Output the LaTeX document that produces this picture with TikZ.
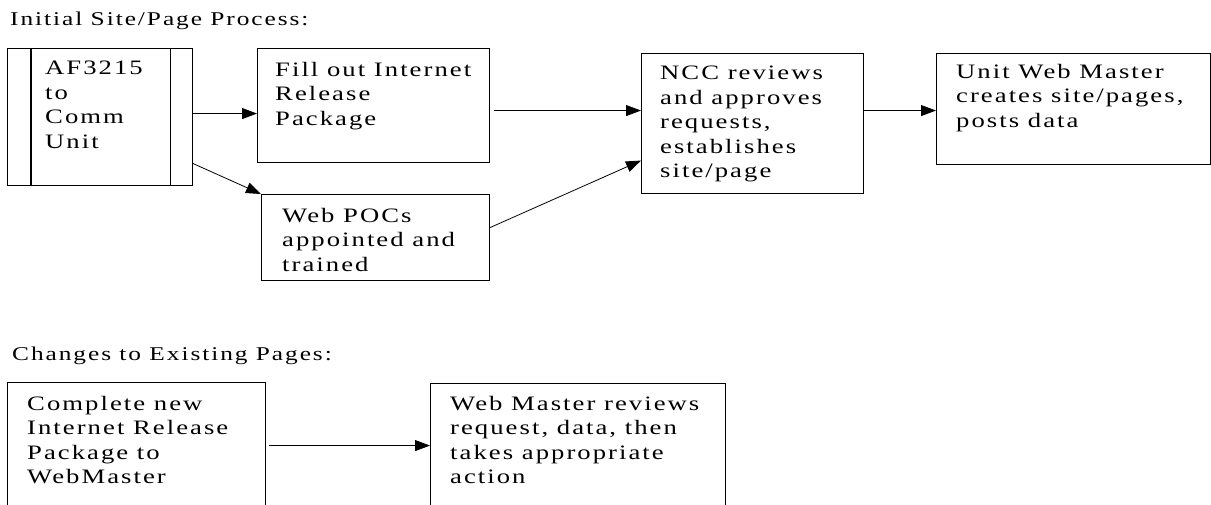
\documentclass[tikz,border=0pt]{standalone}
\usepackage{fontspec}
\setmainfont{Liberation Serif}[FakeStretch=1.3,LetterSpace=10]
\usetikzlibrary{arrows.meta,positioning}
\tikzset{
  stepbox/.style={draw, line width=1.1pt, inner sep=0, anchor=north west},
  boxtext/.style={anchor=north west, align=left, inner sep=0, font=\fontsize{20.5}{24.5}\selectfont},
  heading/.style={anchor=base west, inner sep=0, font=\fontsize{19.5}{22}\selectfont},
  flow/.style={line width=0.8pt, -{Triangle[length=15pt,width=11pt]}}
}
\begin{document}
\begin{tikzpicture}[x=1pt,y=-1pt]
        \useasboundingbox (0,0) rectangle (1211,504);
        \clip (0,0) rectangle (1211,504);
        % initial site/page process
        \node[heading] (title1) at (10,25) {Initial Site/Page Process:};
        \node[stepbox, minimum width=185pt, minimum height=137pt] (af) at (7,48) {};
        \draw[line width=1.1pt] ([xshift=24pt]af.north west) -- ([xshift=24pt]af.south west);
        \draw[line width=1.1pt] ([xshift=-23pt]af.north east) -- ([xshift=-23pt]af.south east);
        \node[stepbox, minimum width=232pt, minimum height=114pt] (fill) at (257,48) {};
        \node[stepbox, minimum width=228pt, minimum height=86pt] (pocs) at (261,194) {};
        \node[stepbox, minimum width=222pt, minimum height=140pt] (ncc) at (641,53) {};
        \node[stepbox, minimum width=274pt, minimum height=111pt] (unit) at (936,53) {};
        \node[boxtext] (af-txt) at (45,61) {AF3215\\to\\Comm\\Unit};
        \node[boxtext] (fill-txt) at (275,62) {Fill out Internet\\Release\\Package};
        \node[boxtext] (pocs-txt) at (282,208) {Web POCs\\appointed and\\trained};
        \node[boxtext] (ncc-txt) at (660,66) {NCC reviews\\and approves\\requests,\\establishes\\site/page};
        \node[boxtext] (unit-txt) at (956,64) {Unit Web Master\\creates site/pages,\\posts data};
        \draw[flow] ([yshift=3.5pt]af.east) -- ([yshift=3.5pt]af.east -| fill.west);
        \draw[flow] ([yshift=-46.5pt]af.east) -- (pocs.north west);
        \draw[flow] ([xshift=4pt,yshift=-5pt]fill.east) -- ([yshift=-5pt]fill.east -| ncc.west);
        \draw[flow] ([yshift=10pt]pocs.east) -- ([yshift=-37pt]ncc.west);
        \draw[flow] ([yshift=13pt]ncc.east) -- ([yshift=13pt]ncc.east -| unit.west);
        % changes to existing pages
        \node[heading] (title2) at (12,360) {Changes to Existing Pages:};
        \node[stepbox, minimum width=258pt, minimum height=138pt] (newpkg) at (7,382) {};
        \node[stepbox, minimum width=295pt, minimum height=137pt] (wm) at (430,383) {};
        \node[boxtext] (newpkg-txt) at (27,396) {Complete new\\Internet Release\\Package to\\WebMaster};
        \node[boxtext] (wm-txt) at (450,396) {Web Master reviews\\request, data, then\\takes appropriate\\action};
        \draw[flow] ([xshift=3pt,yshift=6pt]newpkg.east) -- ([yshift=6pt]newpkg.east -| wm.west);
    \end{tikzpicture}
\end{document}
